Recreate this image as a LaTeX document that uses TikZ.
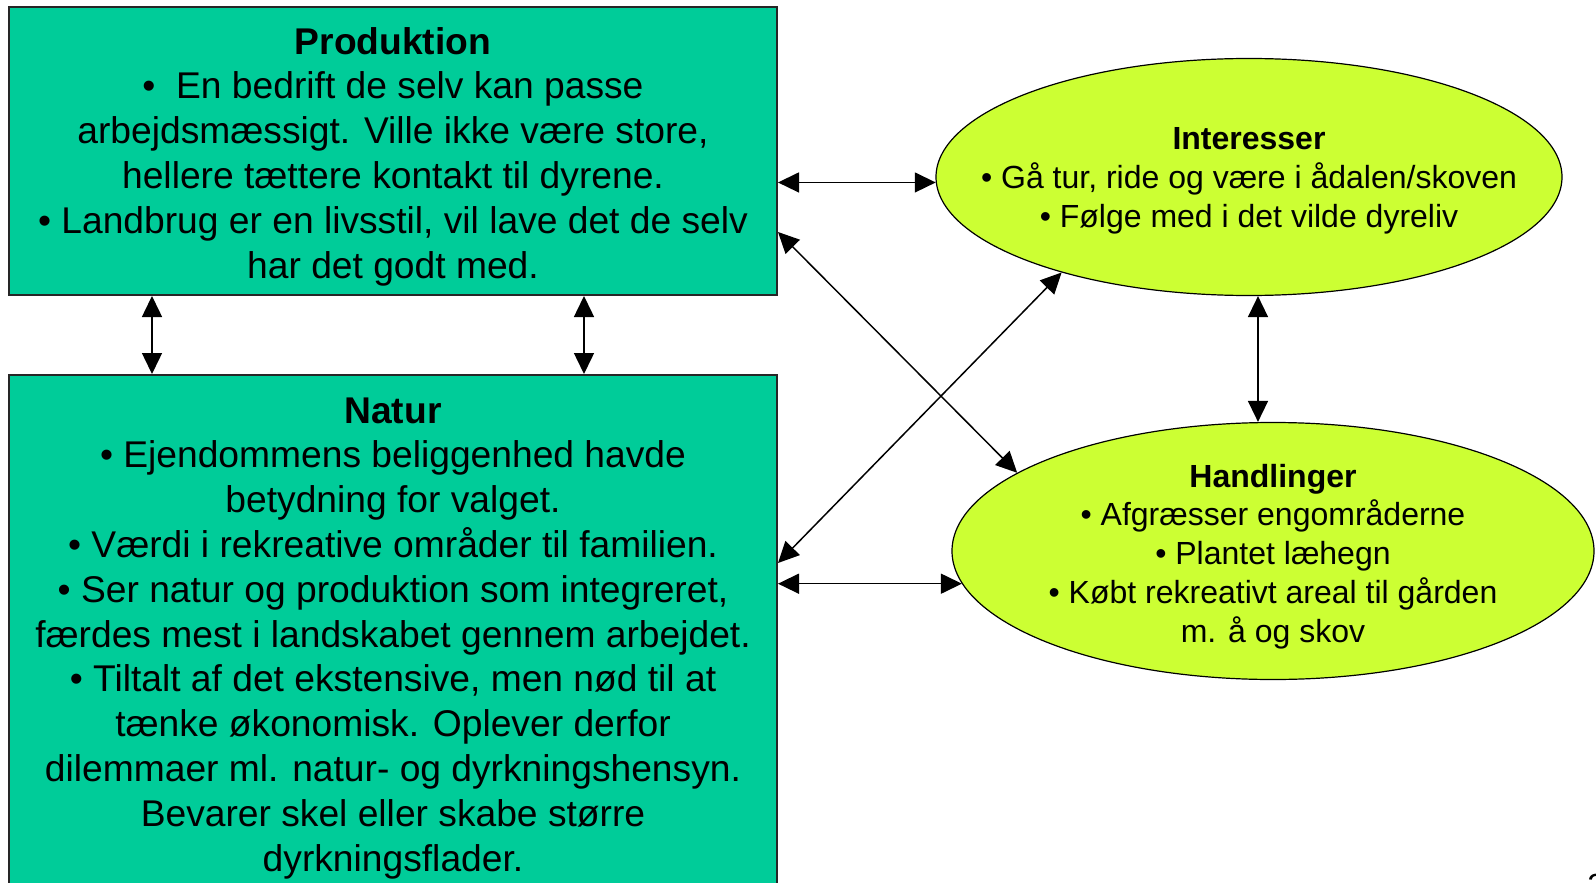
\documentclass[tikz,border=0pt]{standalone}
\usepackage{fontspec}
\setmainfont{Liberation Sans}
\usepackage{xcolor}
\usetikzlibrary{arrows.meta,shapes.geometric}

\definecolor{boksgroen}{RGB}{0,204,153}
\definecolor{ovalgul}{RGB}{204,255,51}

\begin{document}
\begin{tikzpicture}[x=0.5pt, y=-0.5pt,
    boks/.style={draw=black!85, line width=1pt, fill=boksgroen, rectangle, align=center,
        minimum width=384pt, inner sep=0pt, font=\fontsize{18.6}{22.4}\selectfont},
    oval/.style={draw=black, line width=0.6pt, fill=ovalgul, ellipse, align=center,
        inner sep=-30pt, font=\fontsize{16}{19.4}\selectfont},
    pil/.style={{Triangle[length=10.5pt,width=10pt]}-{Triangle[length=10.5pt,width=10pt]}, line width=0.75pt}]
        \useasboundingbox (0,0) rectangle (1596,883);

        \node (prod) at (393, 151) [boks, minimum height=144pt]
            {\rule{0pt}{19pt}\textbf{Produktion}\\
             •\ \ En bedrift de selv kan passe\\
             arbejdsmæssigt. Ville ikke være store,\\
             hellere tættere kontakt til dyrene.\\
             • Landbrug er en livsstil, vil lave det de selv\\
             har det godt med.};
        \node (nat) at (393, 632) [boks, minimum height=257pt]
            {\rule{0pt}{19pt}\textbf{Natur}\\
             • Ejendommens beliggenhed havde\\
             betydning for valget.\\
             • Værdi i rekreative områder til familien.\\
             • Ser natur og produktion som integreret,\\
             færdes mest i landskabet gennem arbejdet.\\
             • Tiltalt af det ekstensive, men nød til at\\
             tænke økonomisk. Oplever derfor\\
             dilemmaer ml. natur- og dyrkningshensyn.\\
             Bevarer skel eller skabe større\\
             dyrkningsflader.};
        \node (int) at (1249, 177) [oval, minimum width=313pt, minimum height=118.5pt]
            {\rule{0pt}{15pt}\textbf{Interesser}\\
             • Gå tur, ride og være i ådalen/skoven\\
             • Følge med i det vilde dyreliv};
        \node (hand) at (1273, 551) [oval, minimum width=321pt, minimum height=128.5pt]
            {\rule{0pt}{17pt}\textbf{Handlinger}\\
             • Afgræsser engområderne\\
             • Plantet læhegn\\
             • Købt rekreativt areal til gården\\
             m. å og skov};
        \node (side) at (1587, 896) [anchor=base west, inner sep=0pt, font=\fontsize{16}{19.4}\selectfont] {2};

        \draw[pil] (prod.east |- int.181) -- (int.181);
        \draw[pil] ([yshift=-40.5pt]prod.east) -- (hand.163);
        \draw[pil] ([yshift=34.5pt]nat.east) -- (int.207);
        \draw[pil] (nat.east |- hand.186) -- (hand.186);
        \draw[pil] ([xshift=72pt]prod.south west) -- ([xshift=72pt]nat.north west);
        \draw[pil] ([xshift=288pt]prod.south west) -- ([xshift=288pt]nat.north west);
        \draw[pil] ([xshift=4.5pt]int.south) -- ([xshift=4.5pt]int.south |- hand.north);
    \end{tikzpicture}
\end{document}
